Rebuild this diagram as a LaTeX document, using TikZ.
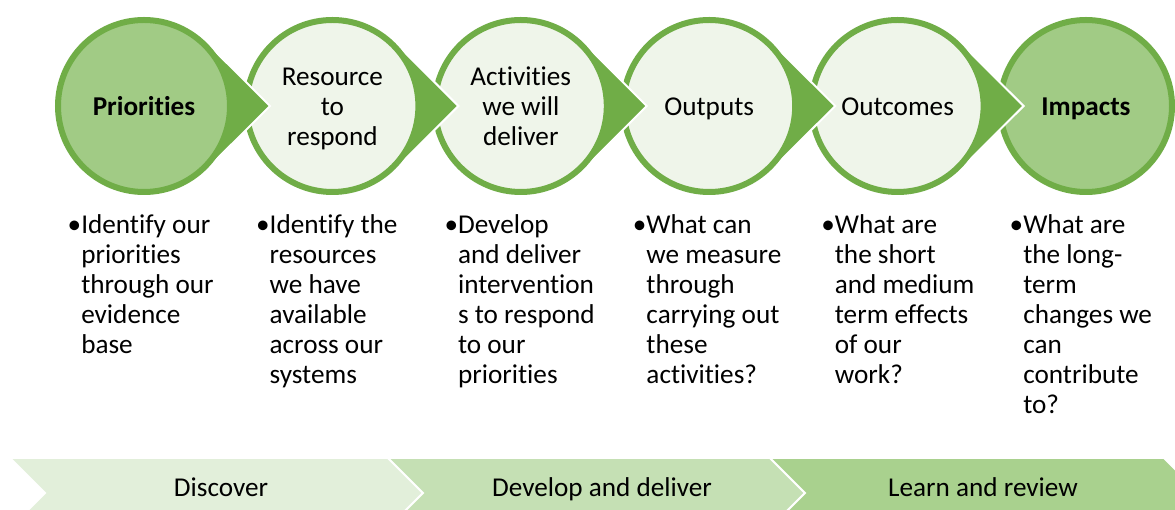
\documentclass[tikz,border=0pt]{standalone}
\usepackage{fontspec}
\setmainfont{Carlito}[RawFeature={-liga;-clig;-dlig;-calt;-rlig}]
\definecolor{dkgreen}{HTML}{70AD47}
\definecolor{midfill}{HTML}{A1CB85}
\definecolor{ltfill}{HTML}{EFF5EA}
\definecolor{chevA}{HTML}{E2EFDA}
\definecolor{chevB}{HTML}{C5E0B4}
\definecolor{chevC}{HTML}{A9D18E}
\newcommand{\vcenterlines}[1]{\vtop{\baselineskip=22.5pt\lineskiplimit=-20pt\halign{\hfil##\hfil\cr#1\crcr}}}
\newcommand{\vleftlines}[1]{\vtop{\baselineskip=22.5pt\lineskiplimit=-20pt\halign{##\hfil\cr#1\crcr}}}
\begin{document}
\begin{tikzpicture}[x=0.75pt,y=0.75pt,
  font=\fontsize{20.4}{22.5}\selectfont,
  tipshape/.style={fill=dkgreen, draw=white, line width=1.5pt, line join=miter},
  ringbox/.style={circle, draw=dkgreen, line width=4.5pt, minimum size=129pt, inner sep=0pt},
  txt/.style={inner sep=0pt, text=black},
  chevbox/.style={draw=white, line width=1.5pt}]
\useasboundingbox (0,0) rectangle (1175,510);
\clip (0,0) rectangle (1175,510);

% bottom chevrons
\path[chevbox, fill=chevA] (10,52) -- (388,52) -- (423,17) -- (388,-18) -- (10,-18) -- (45,17) -- cycle;
\path[chevbox, fill=chevB] (388,52) -- (770,52) -- (805,17) -- (770,-18) -- (388,-18) -- (423,17) -- cycle;
\path[chevbox, fill=chevC] (770,52) -- (1164,52) -- (1199,17) -- (1164,-18) -- (770,-18) -- (805,17) -- cycle;
\node[txt, anchor=base] (ch1) at (221,13) {Discover};
\node[txt, anchor=base] (ch2) at (602,13) {Develop and deliver};
\node[txt, anchor=base] (ch3) at (983,13) {Learn and review};

% circles, drawn right to left so each tip lies over the next circle
\foreach \i/\f in {6/midfill,5/ltfill,4/ltfill,3/ltfill,2/ltfill,1/midfill} {
  \pgfmathsetmacro{\cx}{144+188.4*(\i-1)}
  \ifnum\i<6
    \path[tipshape] (\cx+126,404) -- (\cx+62.93,466.93) arc[start angle=45, end angle=315, radius=89] -- cycle;
  \fi
  \node[ringbox, fill=\f] (c\i) at (\cx,404) {};
}

% circle labels
\node[txt, anchor=base] (t1) at (144,394.5) {\textbf{Priorities}};
\node[txt, anchor=base] (t2) at (332.4,424.5) {\vcenterlines{Resource\cr to\cr respond}};
\node[txt, anchor=base] (t3) at (520.8,424.5) {\vcenterlines{Activities\cr we will\cr deliver}};
\node[txt, anchor=base] (t4) at (709.2,394.5) {Outputs};
\node[txt, anchor=base] (t5) at (897.6,394.5) {Outcomes};
\node[txt, anchor=base] (t6) at (1086,394.5) {\textbf{Impacts}};

% bullet columns
\node[txt, anchor=base west] (b1) at (81,276) {\vleftlines{\llap{•}Identify our\cr priorities\cr through our\cr evidence\cr base}};
\node[txt, anchor=base west] (b2) at (269.4,276) {\vleftlines{\llap{•}Identify the\cr resources\cr we have\cr available\cr across our\cr systems}};
\node[txt, anchor=base west] (b3) at (457.8,276) {\vleftlines{\llap{•}Develop\cr and deliver\cr intervention\cr s to respond\cr to our\cr priorities}};
\node[txt, anchor=base west] (b4) at (646.2,276) {\vleftlines{\llap{•}What can\cr we measure\cr through\cr carrying out\cr these\cr activities?}};
\node[txt, anchor=base west] (b5) at (834.6,276) {\vleftlines{\llap{•}What are\cr the short\cr and medium\cr term effects\cr of our\cr work?}};
\node[txt, anchor=base west] (b6) at (1023,276) {\vleftlines{\llap{•}What are\cr the long-\cr term\cr changes we\cr can\cr contribute\cr to?}};
\end{tikzpicture}
\end{document}
